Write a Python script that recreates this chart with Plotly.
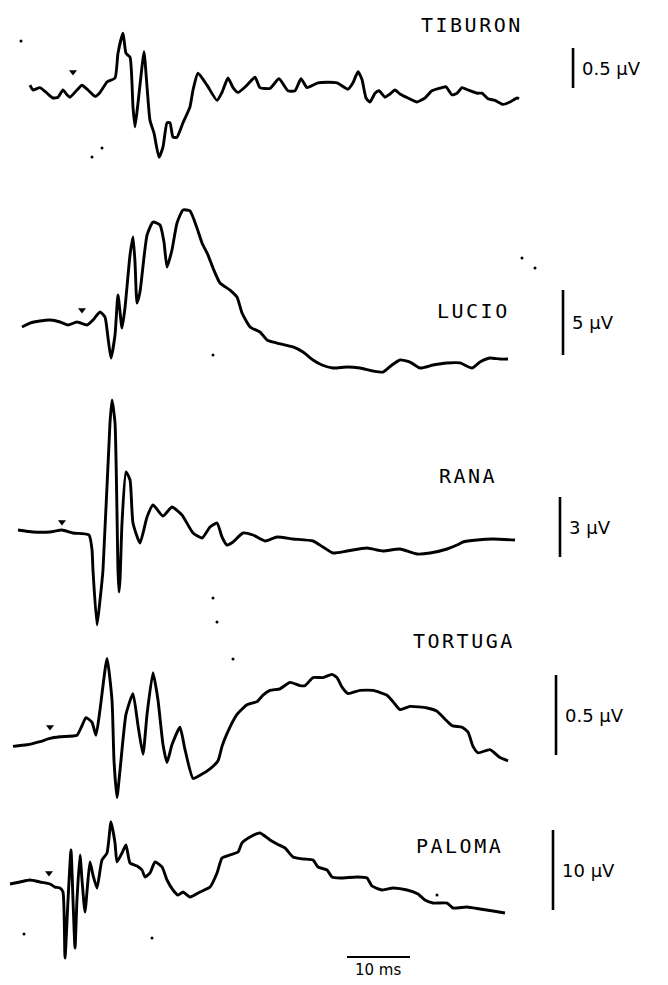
import plotly.graph_objects as go

# ---------------- data (time in ms, amplitude in microvolts) ----------------
names = ["TIBURON", "LUCIO", "RANA", "TORTUGA", "PALOMA"]

tib_t = [3.17, 3.65, 4.76, 5.87, 6.83, 7.62, 8.41, 9.05, 9.52, 10.63, 11.43, 12.38, 13.49, 14.29, 15.40, 16.67,
         17.14, 17.94, 18.41, 19.05, 19.52, 19.84, 20.32, 20.95, 21.27, 21.75, 22.22, 22.86, 23.65, 24.29, 24.92,
         25.40, 25.87, 26.51, 27.46, 28.57, 29.05, 29.84, 31.27, 32.86, 33.65, 34.60, 35.40, 36.19, 37.62, 38.89,
         39.68, 41.27, 42.70, 44.13, 45.24, 46.19, 47.14, 48.89, 51.90, 53.65, 54.44, 55.24, 55.87, 56.51, 57.14,
         57.94, 58.57, 59.52, 60.32, 61.11, 61.90, 63.17, 64.60, 65.87, 66.98, 68.57, 69.21, 70.16, 70.95, 71.75,
         72.70, 74.13, 74.92, 75.87, 76.98, 78.25, 79.37, 80.48, 80.79]
tib_v = [0.06, 0.0, 0.03, -0.04, -0.10, -0.09, 0.0, -0.06, -0.09, 0.0, 0.06, 0.0, -0.08, -0.03, 0.10, 0.15,
         0.46, 0.71, 0.46, 0.41, -0.21, -0.46, -0.16, 0.29, 0.48, 0.04, -0.38, -0.54, -0.84, -0.71, -0.41,
         -0.41, -0.59, -0.59, -0.41, -0.21, 0.0, 0.21, 0.06, -0.13, -0.03, 0.15, 0.03, -0.03, 0.06, 0.16,
         0.03, 0.02, 0.14, -0.01, -0.01, 0.14, 0.03, 0.09, 0.09, 0.01, 0.09, 0.23, 0.13, -0.10, -0.15,
         -0.04, -0.01, -0.09, -0.05, 0.0, -0.05, -0.10, -0.15, -0.10, -0.01, 0.03, 0.04, -0.06, -0.04, 0.03,
         0.0, -0.04, -0.04, -0.11, -0.13, -0.18, -0.15, -0.10, -0.11]

luc_t = [1.90, 3.17, 4.76, 6.35, 7.94, 9.21, 10.63, 12.22, 13.17, 14.29, 15.08, 15.56, 16.03, 16.67, 17.14, 17.78,
         18.25, 19.05, 19.52, 19.84, 20.16, 20.63, 21.75, 22.70, 23.81, 24.44, 24.92, 25.71, 26.51, 27.46, 28.57,
         29.68, 30.48, 31.43, 32.22, 33.33, 34.92, 36.03, 36.83, 38.10, 39.68, 40.79, 42.38, 44.92, 46.51, 48.10,
         49.52, 51.27, 53.49, 55.56, 57.62, 59.21, 60.63, 61.90, 63.49, 65.08, 67.14, 69.37, 71.43, 73.33, 74.60,
         76.19, 77.78, 79.05]
luc_v = [-0.38, -0.08, 0.08, 0.15, 0.0, -0.23, 0.0, -0.23, 0.15, 0.77, 0.38, -1.23, -2.77, -1.0, 2.08, -0.46,
         1.08, 5.15, 6.54, 4.62, 1.46, 2.31, 6.69, 7.69, 7.46, 6.15, 4.23, 5.54, 7.62, 8.62, 8.54,
         7.23, 6.08, 5.15, 4.15, 3.0, 2.46, 1.92, 0.69, -0.38, -0.77, -1.38, -1.62, -1.92, -2.31, -2.92,
         -3.31, -3.54, -3.46, -3.54, -3.77, -3.85, -3.31, -2.92, -3.08, -3.54, -3.31, -3.15, -3.15, -3.54, -3.08,
         -2.77, -2.85, -2.85]

ran_t = [1.27, 3.65, 6.35, 8.25, 10.0, 12.54, 13.02, 13.17, 13.81, 14.29, 14.76, 15.87, 16.19, 16.67, 17.14, 17.30,
         17.46, 17.78, 18.41, 19.05, 19.52, 20.63, 21.75, 22.70, 24.29, 25.71, 27.30, 29.05, 30.48, 31.75, 32.86,
         33.65, 34.44, 35.40, 36.98, 38.57, 40.48, 42.38, 44.92, 48.10, 49.68, 51.27, 53.49, 56.67, 59.21, 61.90,
         64.60, 66.67, 69.37, 70.95, 71.90, 74.13, 76.67, 80.16]
ran_v = [0.10, 0.0, 0.0, 0.10, -0.05, -0.15, -0.90, -1.90, -4.65, -3.40, -1.90, 5.45, 6.60, 5.45, -1.90, -3.0,
         -2.40, 0.45, 3.0, 2.60, 0.45, -0.55, 0.75, 1.35, 0.80, 1.25, 0.85, -0.05, -0.30, 0.25, 0.45,
         -0.25, -0.65, -0.50, -0.05, -0.15, -0.45, -0.25, -0.35, -0.45, -0.75, -1.05, -0.95, -0.80, -0.95, -0.85,
         -1.10, -1.05, -0.85, -0.65, -0.50, -0.40, -0.35, -0.40]

tor_t = [0.48, 2.70, 4.76, 6.35, 7.94, 10.63, 11.43, 12.06, 13.02, 13.65, 14.29, 15.40, 16.19, 16.51, 16.98, 17.46,
         18.41, 19.52, 20.32, 21.11, 21.75, 22.70, 23.49, 24.29, 24.92, 25.71, 26.98, 27.78, 29.05, 30.16, 31.75,
         33.02, 33.65, 34.44, 36.03, 37.62, 39.21, 40.16, 41.27, 42.86, 44.44, 46.03, 46.83, 48.10, 49.68, 51.11,
         51.90, 52.70, 53.65, 55.56, 57.62, 59.84, 60.79, 61.90, 63.49, 66.19, 67.78, 69.05, 70.16, 71.75, 72.70,
         73.49, 74.29, 76.19, 77.78, 79.05]
tor_v = [-0.04, -0.03, -0.01, 0.01, 0.02, 0.03, 0.09, 0.14, 0.11, 0.03, 0.19, 0.51, 0.25, -0.13, -0.36, -0.19,
         0.16, 0.29, 0.09, -0.09, 0.16, 0.42, 0.25, -0.03, -0.14, -0.03, 0.08, -0.06, -0.24, -0.22, -0.18,
         -0.13, -0.04, 0.04, 0.16, 0.22, 0.24, 0.28, 0.31, 0.32, 0.36, 0.34, 0.34, 0.39, 0.39, 0.41,
         0.39, 0.33, 0.29, 0.31, 0.31, 0.28, 0.24, 0.19, 0.21, 0.20, 0.18, 0.13, 0.09, 0.08, 0.05,
         -0.04, -0.08, -0.06, -0.11, -0.13]

pal_t = [0.0, 1.59, 3.17, 4.76, 6.35, 7.14, 7.94, 8.41, 8.73, 9.21, 9.68, 10.0, 10.32, 10.63, 11.11, 11.43,
         11.90, 12.38, 12.70, 13.17, 13.81, 14.60, 15.40, 16.03, 16.67, 16.98, 17.78, 18.41, 19.05, 20.16, 20.95,
         21.43, 22.22, 23.02, 24.13, 24.92, 25.87, 26.67, 27.46, 28.57, 30.16, 31.75, 32.86, 33.65, 34.92, 36.19,
         36.83, 38.10, 39.68, 41.27, 42.38, 43.65, 44.92, 46.51, 48.10, 48.89, 50.32, 51.11, 52.38, 55.08, 56.67,
         57.46, 59.05, 60.79, 63.02, 64.76, 65.87, 67.14, 69.37, 70.32, 72.54, 74.60, 76.67, 78.57]
pal_v = [-0.25, 0.0, 0.25, 0.0, -0.25, -0.63, -0.75, -1.25, -9.5, -2.25, 4.0, -2.25, -8.25, -2.25, 3.38, 0.25,
         -3.75, 0.25, 2.5, 0.88, -0.75, 2.75, 3.63, 7.5, 4.88, 2.5, 3.63, 4.63, 2.38, 2.0, 1.5,
         0.63, 1.13, 2.5, 1.88, 0.25, -1.0, -1.63, -1.25, -1.88, -1.25, -0.63, 1.13, 3.0, 3.38, 3.75,
         4.88, 5.63, 6.13, 5.25, 4.75, 4.25, 3.13, 2.88, 2.75, 1.88, 1.5, 0.63, 0.5, 0.63, 0.5,
         -0.5, -1.0, -0.75, -1.0, -1.5, -2.25, -2.63, -2.63, -3.25, -3.13, -3.38, -3.63, -3.88]

series_t = [tib_t, luc_t, ran_t, tor_t, pal_t]
series_v = [tib_v, luc_v, ran_v, tor_v, pal_v]

# stimulus marks (time ms, amplitude uV)
stim_t = [10.0, 11.43, 8.25, 6.35, 6.19]
stim_v = [0.225, 0.92, 0.5, 0.081, 1.125]

# calibration bars
bar_uv = [0.5, 5, 3, 0.5, 10]
bar_labels = ["0.5 µV", "5 µV", "3 µV", "0.5 µV", "10 µV"]
time_bar_ms = 10
time_bar_label = "10 ms"

# ---------------- layout parameters ----------------
W, H = 668, 985
PX0, PX_PER_MS = 10, 6.3
baseline_px = [90, 322, 532, 740, 882]
px_per_uv = [80, 13, 20, 160, 8]
bar_t = [89.37, 87.78, 87.30, 86.67, 86.19]
bar_bottom_px = [88, 355, 557, 755, 910]
label_right = [(525, 25), (512, 311), (499, 476), (517, 641), (505, 846)]
time_bar_start_ms = 53.49
time_bar_y_px = 957

fig = go.Figure()
layout_axes = {}
shapes = []
annotations = []

for k in range(5):
    yname = "y" if k == 0 else f"y{k+1}"
    axkey = "yaxis" if k == 0 else f"yaxis{k+1}"
    ymax = baseline_px[k] / px_per_uv[k]
    ymin = ymax - H / px_per_uv[k]
    ax = dict(domain=[0, 1], range=[ymin, ymax], visible=False, fixedrange=True)
    if k > 0:
        ax["overlaying"] = "y"
    layout_axes[axkey] = ax

    fig.add_trace(go.Scatter(
        x=series_t[k], y=series_v[k], mode="lines", yaxis=yname, xaxis="x",
        line=dict(color="black", width=2.9, shape="spline", smoothing=0.5),
        hoverinfo="skip", showlegend=False))
    fig.add_trace(go.Scatter(
        x=[stim_t[k]], y=[stim_v[k]], mode="markers", yaxis=yname, xaxis="x",
        marker=dict(symbol="triangle-down", size=7, color="black"),
        hoverinfo="skip", showlegend=False))

    b0 = (baseline_px[k] - bar_bottom_px[k]) / px_per_uv[k]
    shapes.append(dict(type="line", xref="x", yref=yname, x0=bar_t[k], x1=bar_t[k],
                       y0=b0, y1=b0 + bar_uv[k], line=dict(color="black", width=2.6)))
    annotations.append(dict(xref="x", yref=yname, x=bar_t[k] + 1.1, y=b0 + bar_uv[k] / 2,
                            text=bar_labels[k], showarrow=False, xanchor="left", yanchor="middle",
                            font=dict(family="DejaVu Sans", size=18, color="black")))
    lx, ly = label_right[k]
    annotations.append(dict(xref="paper", yref="paper", x=lx / W, y=1 - ly / H,
                            text='<span style="letter-spacing:2.5px">' + names[k] + '</span>',
                            showarrow=False, xanchor="right", yanchor="middle",
                            font=dict(family="DejaVu Sans Mono", size=20, color="black")))

# time calibration bar
ty = 1 - time_bar_y_px / H
shapes.append(dict(type="line", xref="x", yref="paper", x0=time_bar_start_ms,
                   x1=time_bar_start_ms + time_bar_ms, y0=ty, y1=ty, line=dict(color="black", width=2)))
annotations.append(dict(xref="x", yref="paper", x=time_bar_start_ms + time_bar_ms / 2, y=ty - 0.002,
                        text=time_bar_label, showarrow=False, xanchor="center", yanchor="top",
                        font=dict(family="DejaVu Sans", size=15, color="black")))

# scan specks (px)
specks = [(21, 41), (92, 157), (102, 148), (213, 355), (522, 258), (535, 268), (217, 622),
          (233, 659), (213, 598), (24, 934), (152, 938), (437, 895)]
for (sx, sy) in specks:
    shapes.append(dict(type="circle", xref="paper", yref="paper",
                       x0=(sx - 1.5) / W, x1=(sx + 1.5) / W, y0=1 - (sy + 1.5) / H, y1=1 - (sy - 1.5) / H,
                       fillcolor="black", line=dict(width=0)))

fig.update_layout(
    width=W, height=H, margin=dict(l=0, r=0, t=0, b=0),
    paper_bgcolor="white", plot_bgcolor="white",
    xaxis=dict(domain=[0, 1], range=[-PX0 / PX_PER_MS, (W - PX0) / PX_PER_MS], visible=False, fixedrange=True),
    shapes=shapes, annotations=annotations, showlegend=False,
    **layout_axes)

fig.write_html("out.html")
